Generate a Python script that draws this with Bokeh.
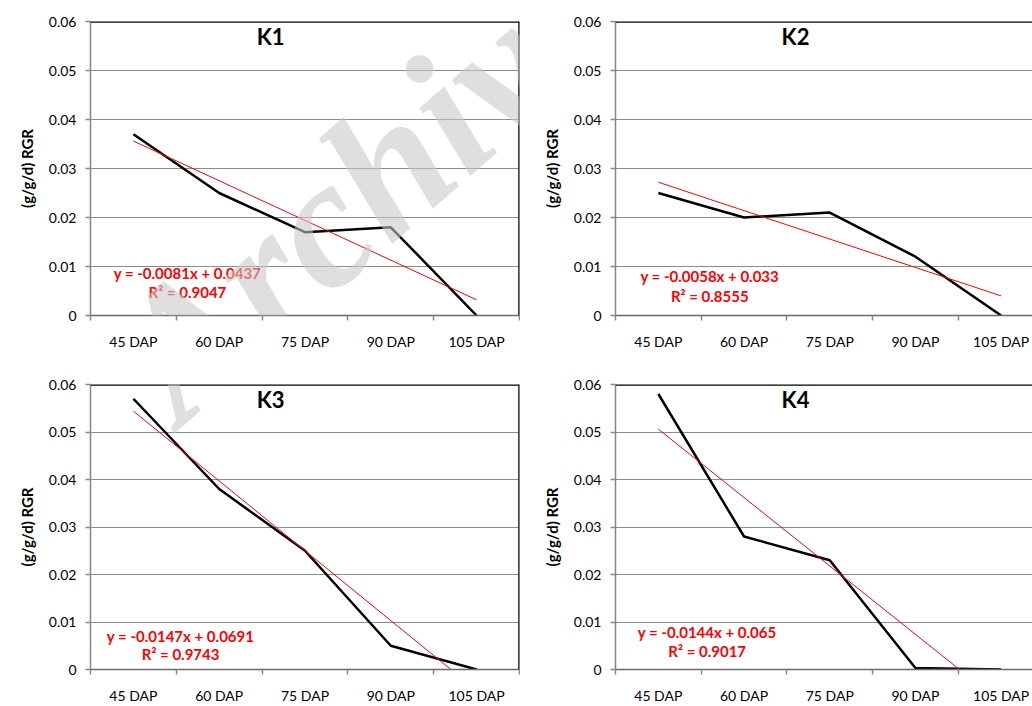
from bokeh.plotting import figure
from bokeh.models import FixedTicker, Span, Label, Range1d
from bokeh.layouts import column, row
from bokeh.embed import file_html
from bokeh.resources import INLINE

# ---------------- data ----------------
categories = ["45 DAP", "60 DAP", "75 DAP", "90 DAP", "105 DAP"]
x_pos = [1, 2, 3, 4, 5]
names = ["K1", "K2", "K3", "K4"]
k1 = [0.037, 0.025, 0.017, 0.018, 0.0]
k2 = [0.025, 0.020, 0.021, 0.012, 0.0]
k3 = [0.057, 0.038, 0.025, 0.005, 0.0]
k4 = [0.058, 0.028, 0.023, 0.0003, 0.0]
series = [k1, k2, k3, k4]
slopes = [-0.0081, -0.0058, -0.0147, -0.0144]
intercepts = [0.0437, 0.033, 0.0691, 0.065]
r_squared = ["0.9047", "0.8555", "0.9743", "0.9017"]
y_ticks = [0, 0.01, 0.02, 0.03, 0.04, 0.05, 0.06]
y_tick_labels = ["0", "0.01", "0.02", "0.03", "0.04", "0.05", "0.06"]
y_axis_title = "(g/g/d) RGR"
watermark = "Archive"

# ---------------- layout (page pixels) ----------------
Y_MAX = 0.06
XEND_R = 0.5 + 417 / 85.7
panels = [
    dict(w=520, h=362, bl=90, br=1, bt=21, bb=47, xend=5.5, fl=90, ft=21, fw=429, fh=294, right_border=True),
    dict(w=512, h=362, bl=95, br=0, bt=21, bb=47, xend=XEND_R, fl=615, ft=21, fw=417, fh=294, right_border=False),
    dict(w=520, h=344, bl=90, br=1, bt=22, bb=29, xend=5.5, fl=90, ft=384, fw=429, fh=293, right_border=True),
    dict(w=512, h=344, bl=95, br=0, bt=22, bb=29, xend=XEND_R, fl=615, ft=384, fw=417, fh=293, right_border=False),
]
eq_pos = [(1.63, 0.0086, 0.0047), (1.60, 0.0080, 0.0039), (1.55, 0.0070, 0.0033), (1.57, 0.0078, 0.0039)]
title_pos = (2.6, 0.0569)
WM_X, WM_Y, WM_ANGLE, WM_SIZE = 140, 380, 41, "184px"

GRAY = "#868686"
FONT = "Lato"


def page_to_data(spec, px, py):
    x = 0.5 + (px - spec["fl"]) / spec["fw"] * (spec["xend"] - 0.5)
    y = (spec["ft"] + spec["fh"] - py) / spec["fh"] * Y_MAX
    return x, y


def make_panel(i):
    spec = panels[i]
    p = figure(width=spec["w"], height=spec["h"], output_backend="svg", toolbar_location=None,
               x_range=Range1d(0.5, spec["xend"]), y_range=Range1d(0, Y_MAX),
               min_border_left=spec["bl"], min_border_right=spec["br"],
               min_border_top=spec["bt"], min_border_bottom=spec["bb"],
               outline_line_color=None, background_fill_color="white", border_fill_color="white")

    minor = [x - 0.5 for x in x_pos] + [x_pos[-1] + 0.5]
    p.xaxis.ticker = FixedTicker(ticks=x_pos, minor_ticks=minor)
    p.xaxis.major_label_overrides = {x: c for x, c in zip(x_pos, categories)}
    p.xaxis.major_tick_out = 0
    p.xaxis.major_tick_in = 0
    p.xaxis.minor_tick_out = 5
    p.xaxis.minor_tick_in = 0
    p.xaxis.minor_tick_line_color = GRAY
    p.xaxis.minor_tick_line_width = 1.5
    p.xaxis.axis_line_color = "#6a6a6a"
    p.xaxis.axis_line_width = 1.5
    p.xaxis.major_label_text_font = FONT
    p.xaxis.major_label_text_font_size = "14px"
    p.xaxis.major_label_text_color = "black"
    p.xaxis.major_label_standoff = 12

    yt = FixedTicker(ticks=y_ticks, minor_ticks=[])
    p.yaxis.ticker = yt
    p.yaxis.major_label_overrides = {t: l for t, l in zip(y_ticks, y_tick_labels)}
    p.yaxis.major_tick_out = 5
    p.yaxis.major_tick_in = 0
    p.yaxis.minor_tick_out = 0
    p.yaxis.minor_tick_in = 0
    p.yaxis.major_tick_line_color = GRAY
    p.yaxis.major_tick_line_width = 1.5
    p.yaxis.axis_line_color = GRAY
    p.yaxis.axis_line_width = 1.5
    p.yaxis.major_label_text_font = FONT
    p.yaxis.major_label_text_font_size = "14px"
    p.yaxis.major_label_text_color = "black"
    p.yaxis.major_label_standoff = 9
    p.yaxis.axis_label = y_axis_title
    p.yaxis.axis_label_text_font = FONT
    p.yaxis.axis_label_text_font_style = "bold"
    p.yaxis.axis_label_text_font_size = "15px"
    p.yaxis.axis_label_text_color = "black"
    p.yaxis.axis_label_standoff = 10

    p.xgrid.visible = False
    p.ygrid.ticker = yt
    p.ygrid.grid_line_color = "#8c8c8c"
    p.ygrid.grid_line_width = 1

    p.add_layout(Span(location=Y_MAX, dimension="width", line_color="black", line_width=2.5))
    if spec["right_border"]:
        p.add_layout(Span(location=x_pos[-1] + 0.5, dimension="height", line_color="black", line_width=2.5))

    m, b = slopes[i], intercepts[i]
    x_end = x_pos[-1]
    if m * x_end + b < 0:
        x_end = -b / m
    tx = [x_pos[0], x_end]
    ty = [m * x + b for x in tx]
    p.line(x_pos, series[i], line_color="black", line_width=2.5)
    p.line(tx, ty, line_color="red", line_width=1)

    p.add_layout(Label(x=title_pos[0], y=title_pos[1], text=names[i], text_font=FONT,
                       text_font_style="bold", text_font_size="22px", text_color="black",
                       text_align="center", text_baseline="middle"))
    ex, ey, ry = eq_pos[i]
    sign = "+" if b >= 0 else "-"
    eq_text = f"y = {m}x {sign} {abs(b)}"
    p.add_layout(Label(x=ex, y=ey, text=eq_text, text_font=FONT, text_font_style="bold",
                       text_font_size="15px", text_color="red", text_align="center", text_baseline="middle"))
    p.add_layout(Label(x=ex, y=ry, text=f"R\u00b2 = {r_squared[i]}", text_font=FONT, text_font_style="bold",
                       text_font_size="15px", text_color="red", text_align="center", text_baseline="middle"))

    if i in (0, 2):
        wx, wy = page_to_data(spec, WM_X, WM_Y)
        p.add_layout(Label(x=wx, y=wy, text=watermark, angle=WM_ANGLE, angle_units="deg",
                           text_font="Liberation Serif", text_font_style="bold italic",
                           text_font_size=WM_SIZE, text_color="#c8c8c8", text_alpha=0.58,
                           text_align="left", text_baseline="alphabetic"))
    return p


figs = [make_panel(i) for i in range(4)]
layout = column(row(figs[0], figs[1]), row(figs[2], figs[3]))

with open("out.html", "w") as f:
    f.write(file_html(layout, INLINE))
